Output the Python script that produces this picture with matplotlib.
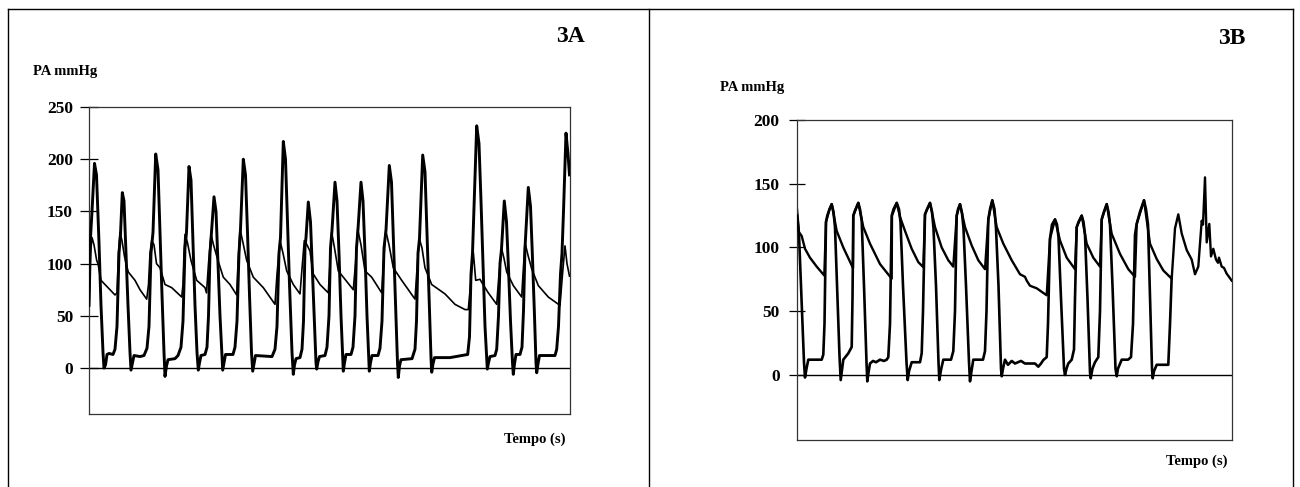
import matplotlib
matplotlib.use("Agg")
import matplotlib.pyplot as plt
from matplotlib.lines import Line2D

plt.rcParams['font.family'] = ['Liberation Serif', 'DejaVu Serif']
plt.rcParams['font.weight'] = 'bold'

# ---------------- data (time in samples, pressure in mmHg) ----------------
# Panel 3A: left-ventricular pressure (thick trace)
lv_3a = [(0,60),(1.5,125),(3,150),(5.5,196),(7.5,185),(10,120),(12,60),(14,15),(15,0),(16.5,3),(18,13),(20,14),(24,13),
         (26,18),(28,40),(30,110),(31.5,128),(33.3,168),(35,160),(37,110),(39,60),(41,15),(42,-2),(43.5,5),(45,12),(51,11),
         (55,12),(58,19),(60,40),(62,110),(64,130),(66.7,205),(69,190),(71,130),(73,70),(75,15),(76,-8),(77.5,2),(79,8),
         (86,9),(89,12),(92,20),(94,45),(96,115),(97.5,130),(100,193),(102,180),(104,120),(106,60),(108,15),(109.3,-2),
         (110.5,5),(112,12),(116,13),(118,20),(119.5,50),(121,110),(122.5,130),(125,164),(127,150),(129,100),(131,50),
         (133,10),(133.7,-2),(135,5),(136.5,13),(144,13),(146,20),(148,45),(150,110),(151.5,133),(154.3,200),(156.5,185),
         (158.5,130),(160.5,70),(162.5,15),(163.7,-3),(165,4),(166.5,12),(183,11),(186,18),(188,40),(190,110),(191.5,125),
         (194.3,217),(196.5,200),(198.5,140),(200.5,80),(203,15),(204.3,-6),(205.5,3),(207,9),(211,10),(213,18),(214.5,45),
         (216,115),(217,125),(219.3,159),(221.5,140),(223.5,90),(225.5,40),(227,5),(227.7,-1),(229,6),(230.5,11),(236,12),
         (238,20),(240,50),(241.5,115),(243,132),(246,178),(248,160),(250,110),(252,50),(254.3,-3),(255.5,5),(257,13),
         (262,13),(264,20),(266,50),(267.5,115),(269,133),(272,178),(274,160),(276,110),(278,50),(280.3,-3),(281.5,5),
         (283,12),(289,12),(291,19),(293,45),(295,115),(297,132),(300.3,194),(302.5,178),(304.5,120),(306.5,60),(308.5,5),
         (309.3,-9),(310.5,2),(312,8),(323,9),(326,18),(327.5,45),(329,110),(330.5,124),(333.7,204),(336,188),(338,130),
         (340,70),(342,10),(342.7,-4),(344,4),(345.5,10),(361,10),(373,12),(378.7,13),(380.5,30),(382,90),(383.5,110),
         (387.7,232),(390,215),(392,160),(394,100),(396,40),(398.3,-1),(399.5,5),(401,11),(406,12),(407.7,18),(409.5,50),
         (411,100),(412.5,114),(415.3,160),(417.5,140),(419.5,95),(421.5,45),(423.5,5),(424.3,-6),(425.5,4),(427,13),
         (431,13),(433,20),(434.5,55),(436,115),(439.3,173),(441.5,155),(443.5,105),(445.5,50),(447,5),(447.7,-4.5),
         (449,4),(450.5,12),(466,12),(467.7,18),(469.5,40),(471.5,90),(473,110),(474.5,150),(477,225),(479,205),(480.5,185)]

# Panel 3A: aortic pressure (thin trace)
ao_3a = [(0,55),(1.5,110),(3,125),(5,118),(7.7,103),(9,100),(12,84),(16,80),(21,75),(26,70),(28,72),(29.5,110),(31,130),
         (33,122),(35.3,108),(37,100),(39.3,92),(46,84),(51,75),(57.7,66),(59.5,80),(61,110),(62.7,122),(65,118),(67.5,100),
         (71,96),(76,80),(82.7,77),(92.7,68),(94,80),(95,110),(96,128),(98.5,120),(102,103),(107.7,84),(116,77),(117.5,72),
         (119.5,100),(122,128),(124.5,118),(129,103),(134.3,87),(141,80),(147.7,70),(149,100),(151,133),(154,120),
         (157.7,103),(164.3,87),(174.3,77),(186,61),(188,90),(191,122),(194,110),(197.7,93),(204.3,80),(211,71),(213,95),
         (215.3,122),(218,118),(221,112),(224.3,90),(231,80),(239.3,72),(241,100),(242.7,130),(245.5,115),(249.3,93),
         (256,85),(264.3,75),(266.5,100),(268.7,133),(272,118),(276,93),(282.7,87),(292.7,72),(294.5,100),(296.7,132),
         (300,118),(304.3,96),(312.7,84),(326,66),(328,95),(330.3,124),(333,115),(336,96),(342.7,80),(356,71),(366,61),
         (376,56),(379.3,56),(382,85),(384.3,111),(386.7,84),(391,85),(394,80),(399.3,72),(407.7,61),(410,90),(412.7,114),
         (415,105),(417.7,92),(424.3,79),(432.7,68),(434,90),(436,120),(439,108),(442.7,95),(449.3,79),(459.3,68),(471,60),
         (473.5,90),(476,117),(478,100),(480.5,88)]

# Panel 3B: left-ventricular pressure
lv_3b = [(0,125),(2,110),(5,50),(7,10),(8,-2),(9.5,5),(11.3,12),(24.7,12),(26.3,16),(27.5,40),(29,120),(30.3,125),(32.5,130),
         (34.7,134),(36.5,128),(38,116),(40,70),(42.5,15),(43.7,-4),(45,4),(46.3,12),(51.3,17),(54.7,22),(55.5,60),(56.3,125),
         (58,129),(61.3,135),(63,130),(64.7,121),(67,70),(69.5,10),(70.3,-5),(71.5,2),(73,9),(76,11),(79,10),(83,12),(87,11),
         (89.7,12),(91.3,14),(93,40),(94.7,125),(96.5,130),(99.7,135),(102,130),(103.5,120),(106,70),(109.5,10),(110.7,-4),
         (112,3),(114.7,10),(123,10),(124.7,17),(126,50),(128,126),(130,130),(133,135),(135,128),(136.5,115),(139,70),
         (141.5,10),(142.3,-4),(144,4),(146.3,12),(154,12),(156.3,18.7),(158,50),(159.7,125),(161,130),(163,134),(165,127),
         (166.5,115),(169,70),(172,10),(173,-5),(174.5,3),(176.3,12),(186,12),(188,18.7),(189.5,50),(191.3,122),(193,130),
         (195.3,137),(197.5,130),(199,115),(201.5,70),(204,5),(204.7,-1),(206,5),(208,12),(211,8),(214.7,11),(218,9),
         (221,10),(224,11),(228,9),(233,9),(238,9),(241.3,6.5),(244,9),(246.3,11.7),(249.7,14),(251,40),(253,107),(255,118),
         (258,122),(260,118),(261.5,108),(264,60),(267,5),(268,0),(269.5,5),(271.3,9),(274.7,12),(277,20),(278,60),
         (279.7,116),(281.5,120),(284.7,125),(286.5,120),(288,110),(290.5,60),(293,2),(293.7,-2.6),(295.5,5),(298,10),
         (301.3,14),(303,50),(304.7,122),(306.5,127),(309.7,134),(311.5,128),(313,118),(315.5,70),(318.5,5),(319.7,-1),
         (321,5),(324.7,12),(331,12),(334,14),(336,40),(338,110),(339.7,118.5),(343,128),(347,137),(349,130),(351,118),
         (353,60),(355,5),(355.7,-2.6),(357,3),(359.7,8),(371.3,8),(373,40),(374.7,77)]

# Panel 3B: aortic pressure
ao_3b = [(0,130),(2,112),(4.7,109),(8,99),(13,92),(19.7,85),(27.3,78),(29,120),(32.5,130),(34.7,134),(39.7,113),(46.3,100),
         (54.7,86),(56,84),(56.3,125),(61.3,135),(66.3,116),(73,103),(83,87),(94.7,75.5),(95,125),(99.7,135),(103,124),
         (108,113),(114.7,99),(121.3,88.5),(126.3,84.6),(128,126),(133,135),(138,116),(144.7,100),(151.3,90),(156.3,85),
         (159.7,125),(163,134),(168,116),(174.7,101.6),(181.3,90),(188,83),(191.3,122),(195.3,137),(199.7,116),(206.3,103),
         (214.7,90),(223,79),(228,77),(229.7,74),(233,70),(239.7,68),(249.7,62.5),(253,107),(258,122),(263,105.5),
         (269.7,92),(278,83),(279.7,116),(284.7,125),(289.7,103),(296.3,92),(303,85),(304.7,122),(309.7,134),(314.7,110.7),
         (323,95),(331.3,83),(338,77),(339.7,118.5),(347,137),(353,103),(359.7,91),(366.3,82),(374.7,75.5),(378,115),
         (381.3,126),(384.7,111),(389.7,98),(394.7,90.5),(398,79),(401.3,85),(404.7,121),(406,118),(408,155),(409.7,104),
         (412.3,118.5),(414,93),(416.3,99),(419,90.5),(421,88),(422,92),(424.7,85),(427,84),(429.7,79.4),(432,77),(434.7,74)]

yticks_3a = [0, 50, 100, 150, 200, 250]
yticks_3b = [0, 50, 100, 150, 200]
panel_labels = ["3A", "3B"]
ylabel_text = "PA mmHg"
xlabel_text = "Tempo (s)"

# ---------------- figure ----------------
fig = plt.figure(figsize=(13, 4.87), dpi=100)
W, H = 1300, 487

def fx(px):
    return px / W

def fy(py):
    return 1 - py / H

# outer frame lines
frame_kw = dict(color='black', lw=1.0, transform=fig.transFigure)
fig.add_artist(Line2D([fx(8), fx(1293)], [fy(9), fy(9)], **frame_kw))
fig.add_artist(Line2D([fx(8), fx(8)], [fy(9), 0], **frame_kw))
fig.add_artist(Line2D([fx(649), fx(649)], [fy(9), 0], **frame_kw))
fig.add_artist(Line2D([fx(1293), fx(1293)], [fy(9), 0], **frame_kw))

axA = fig.add_axes([fx(89), fy(414), fx(570 - 89), (414 - 107) / H])
axB = fig.add_axes([fx(797), fy(440), fx(1232 - 797), (440 - 120) / H])

def style(ax, yticks, ylim, xmax, tick_len, pad):
    ax.set_xlim(0, xmax)
    ax.set_ylim(*ylim)
    ax.set_xticks([])
    ax.set_yticks(yticks)
    ax.set_yticklabels([str(v) for v in yticks], fontsize=12.5, fontweight='bold')
    ax.tick_params(axis='y', direction='inout', length=tick_len, width=0.9, pad=pad)
    for s in ax.spines.values():
        s.set_linewidth(0.9)
        s.set_color('#333333')
    ax.axhline(0, color='black', lw=1.0, zorder=1)

style(axA, yticks_3a, (-44, 250), 481, 13, 5)
style(axB, yticks_3b, (-51, 200), 435, 11, 7)

tA, pA = zip(*lv_3a)
axA.plot(tA, pA, color='black', lw=2.1, solid_joinstyle='round', zorder=3)
tA2, pA2 = zip(*ao_3a)
axA.plot(tA2, pA2, color='black', lw=1.2, solid_joinstyle='round', zorder=2)

tB, pB = zip(*lv_3b)
axB.plot(tB, pB, color='black', lw=1.9, solid_joinstyle='round', zorder=3)
tB2, pB2 = zip(*ao_3b)
axB.plot(tB2, pB2, color='black', lw=1.7, solid_joinstyle='round', zorder=2)

# texts
fig.text(fx(570), fy(36), panel_labels[0], fontsize=17, fontweight='bold', ha='center', va='center')
fig.text(fx(1232), fy(38), panel_labels[1], fontsize=17, fontweight='bold', ha='center', va='center')
fig.text(fx(33), fy(71), ylabel_text, fontsize=10.5, fontweight='bold', ha='left', va='center')
fig.text(fx(720), fy(87), ylabel_text, fontsize=10.5, fontweight='bold', ha='left', va='center')
fig.text(fx(565), fy(439), xlabel_text, fontsize=10.5, fontweight='bold', ha='right', va='center')
fig.text(fx(1228), fy(461), xlabel_text, fontsize=10.5, fontweight='bold', ha='right', va='center')

fig.savefig("out.png", dpi=100)
